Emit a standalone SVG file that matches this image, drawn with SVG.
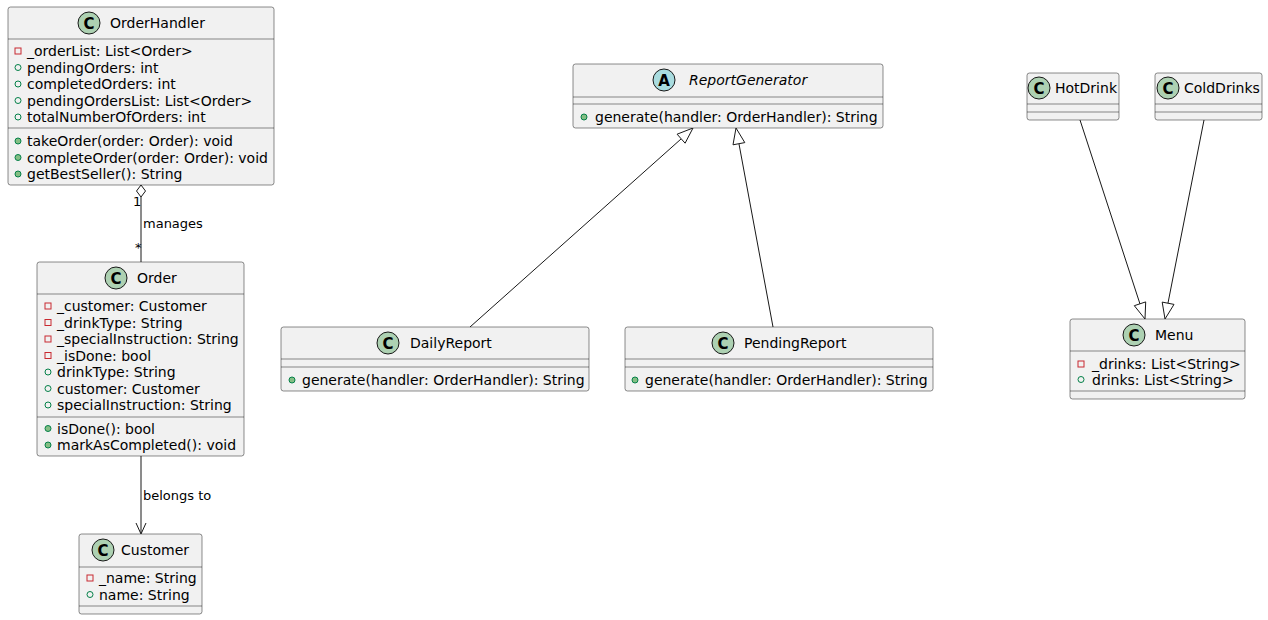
<svg xmlns="http://www.w3.org/2000/svg" width="1268" height="620" viewBox="0 0 1268 620">
<defs>
<style>
.box{fill:#F1F1F1;stroke:#181818;stroke-width:0.5}
.sep{stroke:#181818;stroke-width:0.5}
.t{font-family:"DejaVu Sans",sans-serif;font-size:14px;fill:#000}
.name{font-family:"DejaVu Sans",sans-serif;font-size:14px;fill:#000}
.lbl{font-family:"DejaVu Sans",sans-serif;font-size:13px;fill:#000}
.cc{fill:#ADD1B2;stroke:#181818;stroke-width:1}
.ca{fill:#A9DCDF;stroke:#181818;stroke-width:1}
.cl{font-family:"DejaVu Sans",sans-serif;font-size:15px;font-weight:bold;fill:#000;text-anchor:middle}
.priv{fill:none;stroke:#C82930;stroke-width:1}
.pubf{fill:none;stroke:#038048;stroke-width:1}
.pubm{fill:#84BE84;stroke:#038048;stroke-width:1}
.edge{fill:none;stroke:#181818;stroke-width:1}
.hollow{fill:none;stroke:#181818;stroke-width:1}
</style>
</defs>

<g id="connectors">
  <line class="edge" x1="141" y1="197" x2="141" y2="262"/>
  <polygon class="hollow" points="141,185 145.5,191 141,197 136.5,191"/>
  <text class="lbl" x="133" y="206">1</text>
  <text class="lbl" x="143" y="228">manages</text>
  <text class="lbl" x="135" y="252">*</text>
  <line class="edge" x1="141" y1="456" x2="141" y2="533"/>
  <polyline class="edge" points="136,523 141,534 146,523"/>
  <text class="lbl" x="143" y="500">belongs to</text>
  <line class="edge" x1="470" y1="327" x2="681" y2="139"/>
  <polygon class="hollow" points="693,128 685.1,143.2 677.1,134.2"/>
  <line class="edge" x1="773" y1="327" x2="739" y2="144"/>
  <polygon class="hollow" points="736,128 744.8,142.6 733,144.8"/>
  <line class="edge" x1="1080" y1="120" x2="1140" y2="304"/>
  <polygon class="hollow" points="1145,319 1134.3,305.7 1145.7,301.9"/>
  <line class="edge" x1="1204" y1="120" x2="1168" y2="303"/>
  <polygon class="hollow" points="1165,319 1162.2,302.1 1174,304.4"/>
</g>

<g id="OrderHandler">
  <rect class="box" x="8" y="7" width="266" height="178" rx="2.5"/>
  <circle class="cc" cx="89" cy="23" r="11"/>
  <text class="cl" x="89" y="28.5">C</text>
  <text class="name" x="110" y="28">OrderHandler</text>
  <line class="sep" x1="8" y1="39" x2="274" y2="39"/>
  <rect class="priv" x="15" y="48" width="6" height="6"/>
  <text class="t" x="27" y="56">_orderList: List&lt;Order&gt;</text>
  <circle class="pubf" cx="18" cy="67.5" r="3"/>
  <text class="t" x="27" y="72.5">pendingOrders: int</text>
  <circle class="pubf" cx="18" cy="84" r="3"/>
  <text class="t" x="27" y="89">completedOrders: int</text>
  <circle class="pubf" cx="18" cy="100.5" r="3"/>
  <text class="t" x="27" y="105.5">pendingOrdersList: List&lt;Order&gt;</text>
  <circle class="pubf" cx="18" cy="117" r="3"/>
  <text class="t" x="27" y="122">totalNumberOfOrders: int</text>
  <line class="sep" x1="8" y1="128" x2="274" y2="128"/>
  <circle class="pubm" cx="18" cy="141" r="3"/>
  <text class="t" x="27" y="146">takeOrder(order: Order): void</text>
  <circle class="pubm" cx="18" cy="157.5" r="3"/>
  <text class="t" x="27" y="162.5">completeOrder(order: Order): void</text>
  <circle class="pubm" cx="18" cy="174" r="3"/>
  <text class="t" x="27" y="179">getBestSeller(): String</text>
</g>

<g id="Order">
  <rect class="box" x="37" y="262" width="207" height="194" rx="2.5"/>
  <circle class="cc" cx="116" cy="278" r="11"/>
  <text class="cl" x="116" y="283.5">C</text>
  <text class="name" x="137" y="283">Order</text>
  <line class="sep" x1="37" y1="294" x2="244" y2="294"/>
  <rect class="priv" x="45" y="303" width="6" height="6"/>
  <text class="t" x="57" y="311">_customer: Customer</text>
  <rect class="priv" x="45" y="319.5" width="6" height="6"/>
  <text class="t" x="57" y="327.5">_drinkType: String</text>
  <rect class="priv" x="45" y="336" width="6" height="6"/>
  <text class="t" x="57" y="344">_specialInstruction: String</text>
  <rect class="priv" x="45" y="352.5" width="6" height="6"/>
  <text class="t" x="57" y="360.5">_isDone: bool</text>
  <circle class="pubf" cx="48" cy="372" r="3"/>
  <text class="t" x="57" y="377">drinkType: String</text>
  <circle class="pubf" cx="48" cy="388.5" r="3"/>
  <text class="t" x="57" y="393.5">customer: Customer</text>
  <circle class="pubf" cx="48" cy="405" r="3"/>
  <text class="t" x="57" y="410">specialInstruction: String</text>
  <line class="sep" x1="37" y1="417" x2="244" y2="417"/>
  <circle class="pubm" cx="48" cy="428.5" r="3"/>
  <text class="t" x="57" y="433.5">isDone(): bool</text>
  <circle class="pubm" cx="48" cy="445" r="3"/>
  <text class="t" x="57" y="450">markAsCompleted(): void</text>
</g>

<g id="Customer">
  <rect class="box" x="79" y="534" width="123" height="80" rx="2.5"/>
  <circle class="cc" cx="103" cy="550" r="11"/>
  <text class="cl" x="103" y="555.5">C</text>
  <text class="name" x="121" y="555">Customer</text>
  <line class="sep" x1="79" y1="567" x2="202" y2="567"/>
  <rect class="priv" x="87" y="575" width="6" height="6"/>
  <text class="t" x="99" y="583">_name: String</text>
  <circle class="pubf" cx="90" cy="594.5" r="3"/>
  <text class="t" x="99" y="599.5">name: String</text>
  <line class="sep" x1="79" y1="606" x2="202" y2="606"/>
</g>

<g id="ReportGenerator">
  <rect class="box" x="573" y="64" width="310" height="64" rx="2.5"/>
  <circle class="ca" cx="664" cy="80" r="11"/>
  <text class="cl" x="664" y="85.5">A</text>
  <text class="name" x="689" y="85" font-style="italic">ReportGenerator</text>
  <line class="sep" x1="573" y1="97" x2="883" y2="97"/>
  <line class="sep" x1="573" y1="104" x2="883" y2="104"/>
  <circle class="pubm" cx="584" cy="117" r="3"/>
  <text class="t" x="595" y="122">generate(handler: OrderHandler): String</text>
</g>

<g id="DailyReport">
  <rect class="box" x="281" y="327" width="308" height="64" rx="2.5"/>
  <circle class="cc" cx="388" cy="343" r="11"/>
  <text class="cl" x="388" y="348.5">C</text>
  <text class="name" x="410" y="348">DailyReport</text>
  <line class="sep" x1="281" y1="359" x2="589" y2="359"/>
  <line class="sep" x1="281" y1="367" x2="589" y2="367"/>
  <circle class="pubm" cx="292" cy="380" r="3"/>
  <text class="t" x="302" y="385">generate(handler: OrderHandler): String</text>
</g>

<g id="PendingReport">
  <rect class="box" x="625" y="327" width="308" height="64" rx="2.5"/>
  <circle class="cc" cx="723" cy="343" r="11"/>
  <text class="cl" x="723" y="348.5">C</text>
  <text class="name" x="744" y="348">PendingReport</text>
  <line class="sep" x1="625" y1="359" x2="933" y2="359"/>
  <line class="sep" x1="625" y1="367" x2="933" y2="367"/>
  <circle class="pubm" cx="635" cy="380" r="3"/>
  <text class="t" x="645" y="385">generate(handler: OrderHandler): String</text>
</g>

<g id="HotDrink">
  <rect class="box" x="1027" y="73" width="92" height="47" rx="2.5"/>
  <circle class="cc" cx="1039" cy="88" r="11"/>
  <text class="cl" x="1039" y="93.5">C</text>
  <text class="name" x="1055" y="93">HotDrink</text>
  <line class="sep" x1="1027" y1="104" x2="1119" y2="104"/>
  <line class="sep" x1="1027" y1="112" x2="1119" y2="112"/>
</g>

<g id="ColdDrinks">
  <rect class="box" x="1155" y="73" width="107" height="47" rx="2.5"/>
  <circle class="cc" cx="1168" cy="88" r="11"/>
  <text class="cl" x="1168" y="93.5">C</text>
  <text class="name" x="1184" y="93">ColdDrinks</text>
  <line class="sep" x1="1155" y1="104" x2="1262" y2="104"/>
  <line class="sep" x1="1155" y1="112" x2="1262" y2="112"/>
</g>

<g id="Menu">
  <rect class="box" x="1070" y="319" width="175" height="80" rx="2.5"/>
  <circle class="cc" cx="1134" cy="335" r="11"/>
  <text class="cl" x="1134" y="340.5">C</text>
  <text class="name" x="1155" y="340">Menu</text>
  <line class="sep" x1="1070" y1="351" x2="1245" y2="351"/>
  <rect class="priv" x="1078" y="361" width="6" height="6"/>
  <text class="t" x="1092" y="369">_drinks: List&lt;String&gt;</text>
  <circle class="pubf" cx="1081" cy="379.5" r="3"/>
  <text class="t" x="1092" y="384.5">drinks: List&lt;String&gt;</text>
  <line class="sep" x1="1070" y1="391" x2="1245" y2="391"/>
</g>
</svg>
